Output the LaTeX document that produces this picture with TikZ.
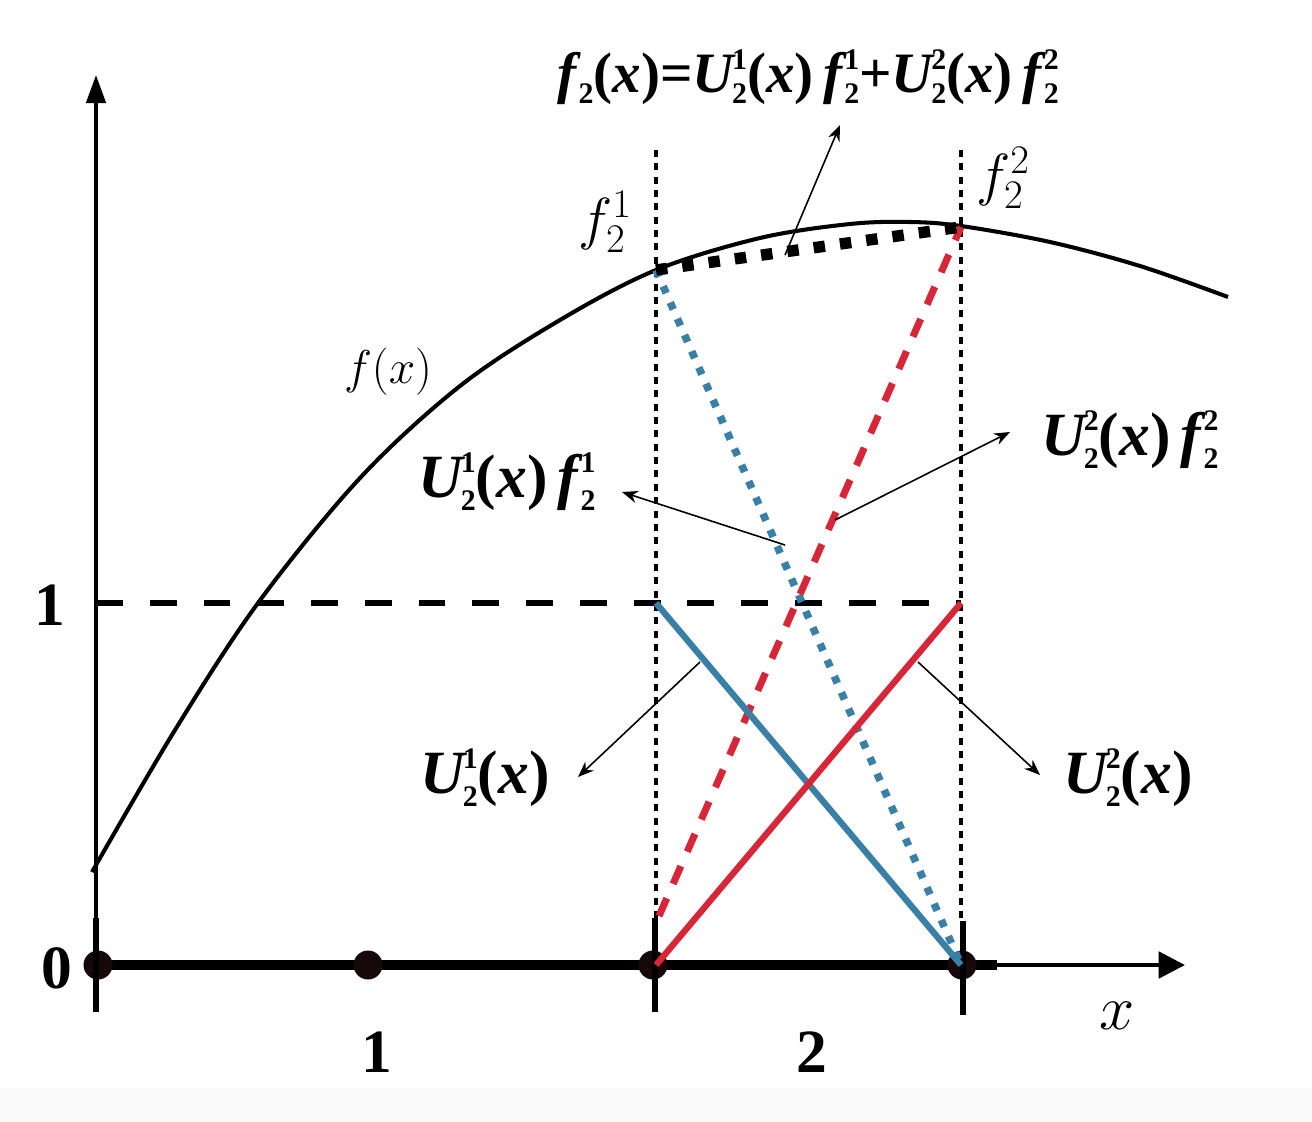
\RequirePackage{fix-cm}
\documentclass[tikz,border=0pt]{standalone}
\usepackage{fontspec}
\setmainfont{Liberation Serif}[BoldFont={Liberation Serif Bold}, ItalicFont={Liberation Serif Italic}, BoldItalicFont={Liberation Serif Bold Italic}]
\usetikzlibrary{arrows.meta}
\newcommand{\mybi}[1]{{\bfseries\itshape #1}}
\newcommand{\mybn}[1]{{\bfseries\upshape #1}}
\newcommand{\myss}[1]{{\fontsize{17}{17}\selectfont\bfseries\upshape #1}}
\newcommand{\mysupsub}[2]{\makebox[0pt][l]{\raisebox{0.41em}{\myss{#1}}}\raisebox{-0.2em}{\myss{#2}}}
\newcommand{\myU}[2]{\mybi{U}\kern-0.03em\mysupsub{#1}{#2}}
\newcommand{\myf}[2]{\mybi{f}\kern0.04em\mysupsub{#1}{#2}}
\newcommand{\myx}{\mybn{(}\mybi{x}\mybn{)}}
\definecolor{ublue}{RGB}{58,128,166}
\definecolor{ured}{RGB}{214,38,56}
\definecolor{dotcol}{RGB}{22,8,8}
\tikzset{
  axisline/.style={line width=2.3pt},
  tickline/.style={line width=3.6pt},
  vdots/.style={line width=2.8pt, dash pattern=on 4pt off 3.6pt},
  hdash/.style={line width=3pt, dash pattern=on 15.3pt off 15.3pt},
  blkdots/.style={line width=6.5pt, dash pattern=on 6.5pt off 8.6pt},
  bluedots/.style={ublue, line width=4.3pt, dash pattern=on 4.3pt off 5.8pt},
  reddash/.style={ured, line width=4pt, dash pattern=on 11pt off 9pt},
  bluesolid/.style={ublue, line width=3.6pt},
  redsolid/.style={ured, line width=3.6pt},
  callout/.style={-{Stealth[length=9pt,width=7pt]}, line width=0.9pt},
  dotnode/.style={circle, fill=dotcol, inner sep=0pt, minimum size=0.58cm},
  blbl/.style={inner sep=0pt, font=\fontsize{35}{40}\selectfont},
  tlbl/.style={inner sep=0pt, font=\fontsize{32.5}{38}\selectfont},
  mlbl/.style={inner sep=0pt, font=\fontsize{27}{32}\selectfont},
  flbl/.style={inner sep=0pt, font=\fontsize{33}{38}\selectfont},
}
\begin{document}
\begin{tikzpicture}[x=0.02cm, y=-0.02cm]
\useasboundingbox (0,0) rectangle (1312,1122);
\fill[white] (0,0) rectangle (1312,1122);
\fill[black!2] (0,1088) rectangle (1312,1122);

% key coordinates
\coordinate (O) at (96,965);
\coordinate (ytop) at (96,75);
\coordinate (ybot) at (96,1012);
\coordinate (xend) at (1185,965);
\coordinate (xthick) at (997,965);
\coordinate (A1) at (656,270);
\coordinate (A2) at (961,227);
\coordinate (B0) at (96,603);
\coordinate (B1) at (656,603);
\coordinate (B2) at (961,603);
\coordinate (C1) at (656,965);
\coordinate (C2) at (961,965);
\coordinate (R0) at (659,916);
\coordinate (V1t) at (656,150);
\coordinate (V2t) at (961,150);
\coordinate (V1b) at (656,918);
\coordinate (V2b) at (961,920);

% dashed level 1
\draw[hdash] (B0) -- (B2);

% vertical dotted lines
\draw[vdots] (V1t) -- (V1b);
\draw[vdots] (V2t) -- (V2b);

% curve f(x)
\draw[line width=2.3pt] plot[smooth, tension=0.55] coordinates {(92,872) (175,730) (258,603) (360,478) (460,386) (560,320) (656,270) (760,238) (850,224) (910,222) (961,226) (1050,242) (1140,266) (1228,297)};

% axes
\draw[axisline, -{Triangle[length=16pt,width=11pt]}] (ybot) -- (ytop);
\draw[axisline, -{Triangle[length=15pt,width=15pt]}] (O) -- (xend);
\draw[line width=5.7pt] (O) -- (xthick);

% dots
\node[dotnode] (p0) at (98,965) {};
\node[dotnode] (p1) at (368,965) {};
\node[dotnode] (p2) at (653,965) {};
\node[dotnode] (p3) at (962,965) {};

% ticks
\draw[tickline] (96,918) -- (96,1012);
\draw[tickline] (655,918) -- (655,1012);
\draw[tickline] (963,921) -- (963,1015);

% coloured lines
\draw[bluedots] (A1) -- (C2);
\draw[reddash] (R0) -- (A2);
\draw[bluesolid] (B1) -- (C2);
\draw[redsolid] (C1) -- (B2);
\draw[blkdots] (A1) -- (A2);

% labels
\node[tlbl] (top) at (808,77) {\mybi{f}\kern0.04em\raisebox{-0.2em}{\myss{2}}\myx\mybn{=}\myU12\myx\,\myf12\mybn{+}\myU22\myx\,\myf22};
\node[flbl] (f21) at (605,222) {$f_2^1$};
\node[flbl] (f22) at (1003,178) {$f_2^2$};
\node[mlbl] (fx) at (388,372) {$f(x)$};
\node[blbl] (L1) at (507,482) {\myU12\myx\,\myf12};
\node[blbl] (L2) at (1130,440) {\myU22\myx\,\myf22};
\node[blbl] (L3) at (485,778) {\myU12\myx};
\node[blbl] (L4) at (1128,778) {\myU22\myx};
\node[blbl] (n0) at (57,968) {\mybn{0}};
\node[blbl] (n1) at (50,605) {\mybn{1}};
\node[blbl] (e1) at (377,1052) {\mybn{1}};
\node[blbl] (e2) at (812,1052) {\mybn{2}};
\node[inner sep=0pt, font=\fontsize{36}{42}\selectfont] (xl) at (1117,1016) {$x$};

% callout arrows
\coordinate (s0) at (785,255);
\coordinate (s1) at (785,545);
\coordinate (s2) at (835,520);
\coordinate (s3) at (700,662);
\coordinate (s4) at (918,662);
\draw[callout] (s0) -- (840,125);
\draw[callout] (s1) -- (622,492);
\draw[callout] (s2) -- (1010,432);
\draw[callout] (s3) -- (578,777);
\draw[callout] (s4) -- (1040,775);
\end{tikzpicture}
\end{document}
